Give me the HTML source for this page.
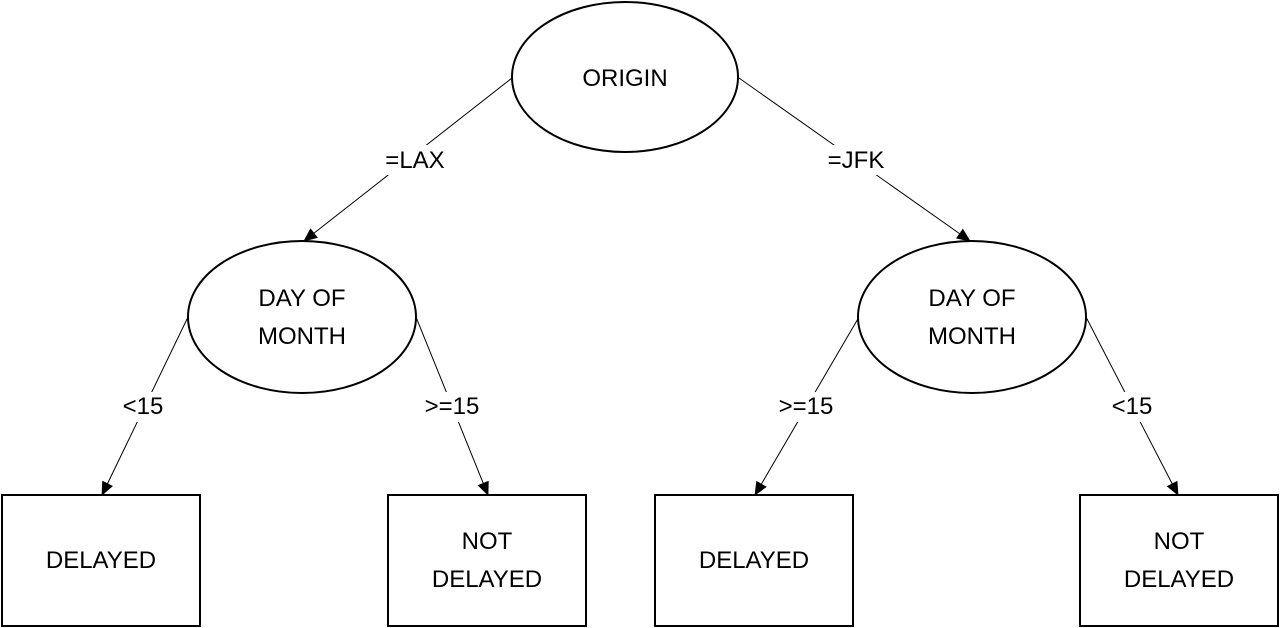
<!DOCTYPE html>
<html><head><style>body{margin:0;background:#fff}svg{display:block}text{font-family:"Liberation Sans",sans-serif;font-size:24px;fill:#000;text-anchor:middle}</style></head><body>
<svg width="1280" height="628" viewBox="0 0 1280 628">
<defs><marker id="a" markerWidth="14" markerHeight="12" refX="13" refY="6" orient="auto" markerUnits="userSpaceOnUse"><path d="M0,0 L14,6 L0,12 z" fill="#000"/></marker></defs>
<g stroke="#000" stroke-width="1" fill="none">
<line x1="512" y1="78" x2="304" y2="241" marker-end="url(#a)"/>
<line x1="739" y1="78" x2="970" y2="241" marker-end="url(#a)"/>
<line x1="188" y1="317" x2="102" y2="495" marker-end="url(#a)"/>
<line x1="416" y1="317" x2="488" y2="495" marker-end="url(#a)"/>
<line x1="859" y1="317" x2="755" y2="495" marker-end="url(#a)"/>
<line x1="1086" y1="317" x2="1178" y2="495" marker-end="url(#a)"/>
</g>
<g fill="#fff">
<rect x="372" y="145" width="88" height="30"/><rect x="822" y="145" width="68" height="30"/>
<rect x="117" y="392" width="52" height="30"/><rect x="416" y="392" width="72" height="30"/>
<rect x="770" y="392" width="72" height="30"/><rect x="1106" y="392" width="52" height="30"/>
</g>
<g fill="#fff" stroke="#000" stroke-width="2">
<ellipse cx="625" cy="77" rx="113" ry="75"/>
<ellipse cx="302" cy="317" rx="114" ry="76"/>
<ellipse cx="972" cy="317" rx="114" ry="76"/>
<rect x="2" y="495" width="198" height="131"/>
<rect x="388" y="495" width="198" height="131"/>
<rect x="655" y="495" width="198" height="131"/>
<rect x="1080" y="495" width="198" height="131"/>
</g>
<text x="625" y="86">ORIGIN</text>
<text x="302" y="306">DAY OF</text><text x="302" y="344">MONTH</text>
<text x="972" y="306">DAY OF</text><text x="972" y="344">MONTH</text>
<text x="415" y="168">=LAX</text><text x="856" y="168">=JFK</text>
<text x="143" y="414">&lt;15</text><text x="452" y="414">&gt;=15</text>
<text x="806" y="414">&gt;=15</text><text x="1132" y="414">&lt;15</text>
<text x="101" y="568">DELAYED</text>
<text x="487" y="549">NOT</text><text x="487" y="587">DELAYED</text>
<text x="754" y="568">DELAYED</text>
<text x="1179" y="549">NOT</text><text x="1179" y="587">DELAYED</text>
</svg>
</body></html>
